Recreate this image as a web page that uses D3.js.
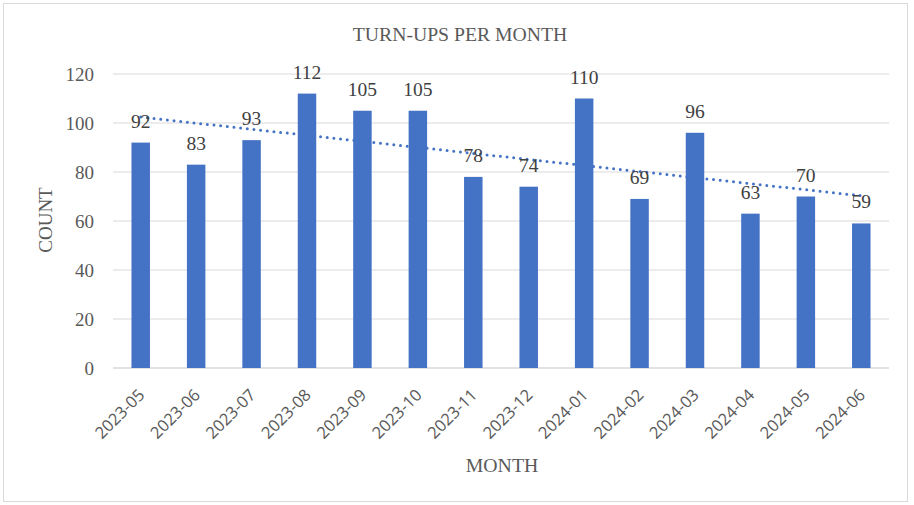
<!DOCTYPE html>
<html>
<head>
<meta charset="utf-8">
<script src="https://cdn.jsdelivr.net/npm/d3@7"></script>
<style>
  body { margin: 0; background: #fff; }
  svg { display: block; }
</style>
</head>
<body>
<svg width="914" height="505"></svg>
<script>
const months = ["2023-05", "2023-06", "2023-07", "2023-08", "2023-09", "2023-10", "2023-11",
  "2023-12", "2024-01", "2024-02", "2024-03", "2024-04", "2024-05", "2024-06"];
const counts = [92, 83, 93, 112, 105, 105, 78, 74, 110, 69, 96, 63, 70, 59];
const yTicks = [0, 20, 40, 60, 80, 100, 120];

const svg = d3.select("svg");
const serif = "'Liberation Serif', 'Times New Roman', serif";
const sans = "'Open Sans', 'Liberation Sans', sans-serif";

// chart area border
svg.append("rect")
  .attr("x", 3.5).attr("y", 3.5)
  .attr("width", 904).attr("height", 498)
  .attr("fill", "#fff")
  .attr("stroke", "#d9d9d9");

const x = d3.scaleBand().domain(months).range([113, 889]).paddingInner(2 / 3).paddingOuter(1 / 3);
const y = d3.scaleLinear().domain([0, 120]).range([368, 74]);

// gridlines
svg.append("g")
  .selectAll("line")
  .data(yTicks)
  .join("line")
  .attr("x1", 113).attr("x2", 889)
  .attr("y1", d => y(d)).attr("y2", d => y(d))
  .attr("stroke", "#d9d9d9")
  .attr("stroke-width", d => d === 0 ? 1.5 : 1);

// y tick labels
svg.append("g")
  .selectAll("text")
  .data(yTicks)
  .join("text")
  .attr("x", 94)
  .attr("y", d => y(d))
  .attr("dy", "0.35em")
  .attr("text-anchor", "end")
  .attr("font-family", serif)
  .attr("font-size", 19)
  .attr("fill", "#595959")
  .text(d => d);

// bars
svg.append("g")
  .selectAll("rect")
  .data(counts)
  .join("rect")
  .attr("x", (d, i) => x(months[i]))
  .attr("y", d => y(d))
  .attr("width", x.bandwidth())
  .attr("height", d => y(0) - y(d))
  .attr("fill", "#4472c4");

// linear trendline
const idx = counts.map((d, i) => i + 1);
const n = counts.length;
const mx = d3.mean(idx), my = d3.mean(counts);
const slope = d3.sum(idx, (t, i) => (t - mx) * (counts[i] - my)) / d3.sum(idx, t => (t - mx) ** 2);
const icpt = my - slope * mx;
const cx = m => x(m) + x.bandwidth() / 2;
svg.append("line")
  .attr("x1", cx(months[0])).attr("y1", y(icpt + slope * 1))
  .attr("x2", cx(months[n - 1])).attr("y2", y(icpt + slope * n))
  .attr("stroke", "#4472c4")
  .attr("stroke-width", 3)
  .attr("stroke-linecap", "round")
  .attr("stroke-dasharray", "0 6.7");

// data labels
svg.append("g")
  .selectAll("text")
  .data(counts)
  .join("text")
  .attr("x", (d, i) => cx(months[i]))
  .attr("y", d => y(d) - 15)
  .attr("text-anchor", "middle")
  .attr("font-family", serif)
  .attr("font-size", 19.5)
  .attr("fill", "#404040")
  .text(d => d);

// x tick labels
svg.append("g")
  .selectAll("text")
  .data(months)
  .join("text")
  .attr("transform", d => `translate(${cx(d) + 5},${396}) rotate(-45)`)
  .attr("text-anchor", "end")
  .attr("font-family", sans)
  .attr("font-size", 16.5)
  .attr("fill", "#595959")
  .text(d => d);

// titles
svg.append("text")
  .attr("x", 460).attr("y", 41)
  .attr("text-anchor", "middle")
  .attr("font-family", serif)
  .attr("font-size", 19.7)
  .attr("fill", "#595959")
  .text("TURN-UPS PER MONTH");

svg.append("text")
  .attr("x", 502).attr("y", 472)
  .attr("text-anchor", "middle")
  .attr("font-family", serif)
  .attr("font-size", 19.8)
  .attr("fill", "#595959")
  .text("MONTH");

svg.append("text")
  .attr("transform", "translate(52,220) rotate(-90)")
  .attr("text-anchor", "middle")
  .attr("font-family", serif)
  .attr("font-size", 19)
  .attr("fill", "#595959")
  .text("COUNT");
</script>
</body>
</html>
